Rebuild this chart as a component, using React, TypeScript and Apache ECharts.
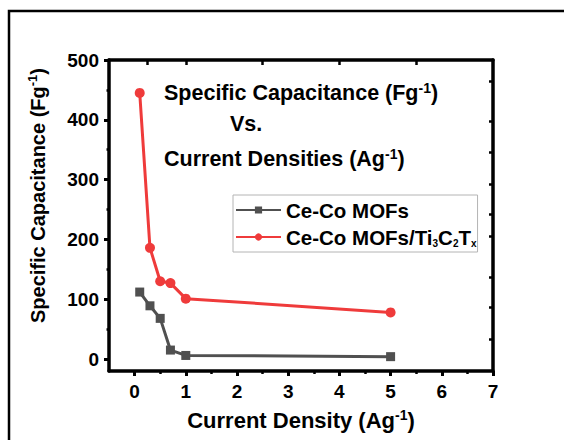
import React, { useEffect, useRef } from 'react';
import * as echarts from 'echarts';

const currentDensity = [0.1, 0.3, 0.5, 0.7, 1, 5];
const ceCoMOFs = [112, 89, 68, 15, 6, 4];
const ceCoMOFsTi3C2Tx = [445, 186, 130, 127, 101, 78];
const seriesNames = ['Ce-Co MOFs', 'Ce-Co MOFs/Ti3C2Tx'];
const xTickValues = [0, 1, 2, 3, 4, 5, 6, 7];
const xMinorTickValues = [0.5, 1.5, 2.5, 3.5, 4.5, 5.5, 6.5];
const yTickValues = [0, 100, 200, 300, 400, 500];
const yMinorTickValues = [50, 150, 250, 350, 450];
const topTickValues = [0.25, 1, 2.5, 4, 5.5];
const rightTickValues = [464, 397, 345, 292, 242, 205, 137, 87, 33];

const FONT = '"Liberation Sans", Arial, sans-serif';
const GRAY = '#505050';
const RED = '#ef3b3b';

const bold = (size: number, extra: any = {}) => ({
  fontSize: size,
  fontWeight: 'bold',
  fontFamily: FONT,
  color: '#000',
  ...extra,
});

export default function App() {
  const ref = useRef<HTMLDivElement>(null);
  useEffect(() => {
    document.body.style.margin = '0';
    const chart = echarts.init(ref.current!, null, { renderer: 'svg' });
    const axisLine = { show: true, onZero: false, lineStyle: { color: '#000', width: 3.5 } };
    const xRange = { min: -0.5, max: 7 };
    const yRange = { min: -20, max: 500 };
    chart.setOption({
      animation: false,
      backgroundColor: '#fff',
      grid: { left: 109, top: 60, width: 384, height: 311, containLabel: false },
      legend: {
        orient: 'vertical',
        left: 233,
        top: 195,
        padding: [4, 1, 4, 2],
        itemGap: 5,
        itemWidth: 45,
        itemHeight: 9,
        itemTextGap: 5,
        borderColor: '#b4b4b4',
        borderWidth: 1,
        data: seriesNames,
        formatter: (name: string) =>
          name === seriesNames[1]
            ? '{n|Ce-Co MOFs/Ti}{s|3}{n|C}{s|2}{n|T}{s|x}'
            : '{n|' + name + '}',
        textStyle: {
          ...bold(20.5),
          lineHeight: 22,
          rich: {
            n: bold(20.5, { lineHeight: 22 }),
            s: bold(10, { lineHeight: 10, verticalAlign: 'bottom' }),
          },
        },
      },
      xAxis: [
        {
          type: 'value',
          position: 'bottom',
          ...xRange,
          axisLine,
          splitLine: { show: false },
          axisTick: { show: true, inside: false, length: 5, customValues: xTickValues, lineStyle: { width: 3, color: '#000' } },
          axisLabel: { customValues: xTickValues, margin: 11, ...bold(19) },
          name: '{n|Current Density (Ag}{s|-1}{n|)}',
          nameLocation: 'middle',
          nameGap: 37,
          nameTextStyle: {
            ...bold(22),
            rich: {
              n: bold(22, { lineHeight: 25 }),
              s: bold(14, { lineHeight: 14, verticalAlign: 'top' }),
            },
          },
        },
        {
          type: 'value',
          position: 'bottom',
          ...xRange,
          axisLine: { show: false, onZero: false },
          splitLine: { show: false },
          axisTick: { show: true, inside: false, length: 3, customValues: xMinorTickValues, lineStyle: { width: 2.5, color: '#000' } },
          axisLabel: { show: false },
        },
        {
          type: 'value',
          position: 'top',
          ...xRange,
          axisLine,
          splitLine: { show: false },
          axisTick: { show: true, inside: true, length: 5, customValues: topTickValues, lineStyle: { width: 2.5, color: '#000' } },
          axisLabel: { show: false },
        },
      ],
      yAxis: [
        {
          type: 'value',
          position: 'left',
          ...yRange,
          axisLine,
          splitLine: { show: false },
          axisTick: { show: true, inside: false, length: 5, customValues: yTickValues, lineStyle: { width: 3, color: '#000' } },
          axisLabel: { customValues: yTickValues, margin: 10, ...bold(19) },
          name: '{n|Specific Capacitance (Fg}{s|-1}{n|)}',
          nameLocation: 'middle',
          nameGap: 60,
          nameTextStyle: {
            ...bold(20),
            padding: [0, 0, 0, 40],
            rich: {
              n: bold(20, { lineHeight: 23 }),
              s: bold(13, { lineHeight: 13, verticalAlign: 'top' }),
            },
          },
        },
        {
          type: 'value',
          position: 'left',
          ...yRange,
          axisLine: { show: false, onZero: false },
          splitLine: { show: false },
          axisTick: { show: true, inside: false, length: 2.5, customValues: yMinorTickValues, lineStyle: { width: 2.5, color: '#000' } },
          axisLabel: { show: false },
        },
        {
          type: 'value',
          position: 'right',
          ...yRange,
          axisLine,
          splitLine: { show: false },
          axisTick: { show: true, inside: true, length: 4, customValues: rightTickValues, lineStyle: { width: 2.5, color: '#000' } },
          axisLabel: { show: false },
        },
      ],
      series: [
        {
          name: seriesNames[0],
          type: 'line',
          xAxisIndex: 0,
          yAxisIndex: 0,
          data: currentDensity.map((x, i) => [x, ceCoMOFs[i]]),
          symbol: 'rect',
          symbolSize: 9,
          lineStyle: { color: GRAY, width: 3 },
          itemStyle: { color: GRAY },
        },
        {
          name: seriesNames[1],
          type: 'line',
          xAxisIndex: 0,
          yAxisIndex: 0,
          data: currentDensity.map((x, i) => [x, ceCoMOFsTi3C2Tx[i]]),
          symbol: 'circle',
          symbolSize: 10,
          lineStyle: { color: RED, width: 3 },
          itemStyle: { color: RED },
        },
      ],
      graphic: [
        {
          type: 'rect',
          shape: { x: 9, y: 11, width: 700, height: 600 },
          style: { fill: 'none', stroke: '#000', lineWidth: 2.5 },
          silent: true,
        },
        {
          type: 'text',
          x: 164,
          y: 93,
          style: {
            text: '{n|Specific Capacitance (Fg}{s|-1}{n|)}',
            verticalAlign: 'middle',
            rich: {
              n: bold(21.5, { lineHeight: 25 }),
              s: bold(14, { lineHeight: 14, verticalAlign: 'top' }),
            },
          },
        },
        {
          type: 'text',
          x: 230,
          y: 124,
          style: { text: 'Vs.', verticalAlign: 'middle', ...bold(21.5) },
        },
        {
          type: 'text',
          x: 164,
          y: 159,
          style: {
            text: '{n|Current Densities (Ag}{s|-1}{n|)}',
            verticalAlign: 'middle',
            rich: {
              n: bold(21.5, { lineHeight: 25 }),
              s: bold(14, { lineHeight: 14, verticalAlign: 'top' }),
            },
          },
        },
      ],
    });
    return () => chart.dispose();
  }, []);
  return <div ref={ref} style={{ width: 564, height: 440 }} />;
}
